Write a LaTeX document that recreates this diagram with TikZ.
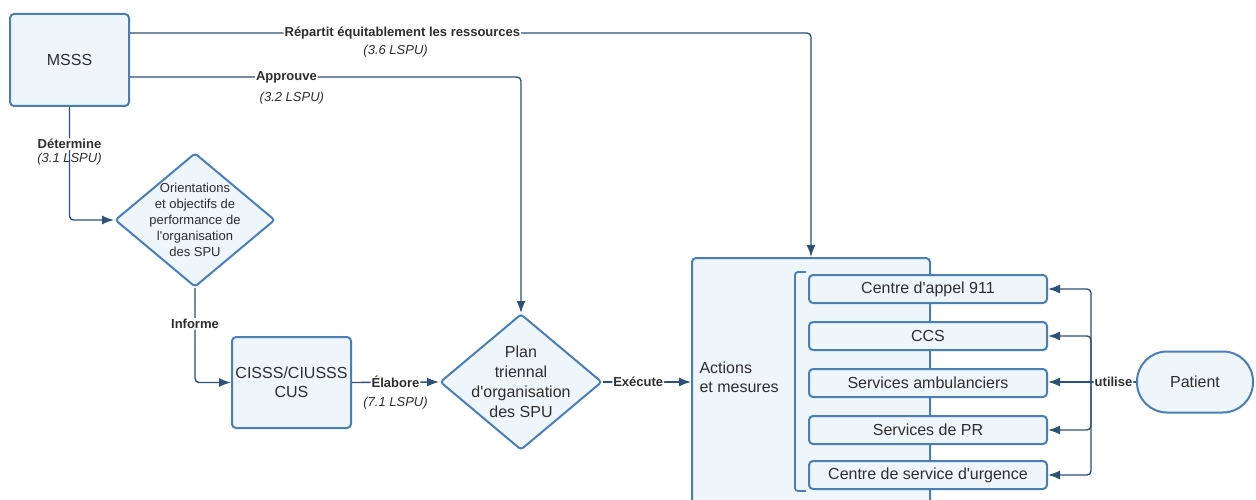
\documentclass[tikz,border=0pt]{standalone}
\usepackage{fontspec}
\setmainfont{Liberation Sans}[Ligatures=TeXOff]
\usetikzlibrary{shapes.geometric,arrows.meta}

\definecolor{boxblue}{HTML}{4A7FB5}
\definecolor{boxfill}{HTML}{EEF5FB}
\definecolor{linkblue}{HTML}{2D5275}
\definecolor{txtgray}{HTML}{2E2E2E}

\tikzset{
  box/.style={draw=boxblue, line width=2pt, fill=boxfill, rounded corners=4pt,
    text=txtgray, align=center, font=\fontsize{16}{19}\selectfont},
  choice/.style={box, diamond, rounded corners=3pt, inner sep=-20pt},
  service/.style={box, minimum width=238pt, minimum height=28pt, inner sep=0pt},
  link/.style={draw=linkblue, line width=1.4pt, rounded corners=4pt},
  arr/.style={link, -{Latex[length=12pt,width=9pt]}},
  verb/.style={font=\bfseries\fontsize{13}{15}\selectfont, text=txtgray, fill=white, inner sep=1pt},
  lspu/.style={font=\itshape\fontsize{13}{15}\selectfont, text=txtgray, inner sep=1pt},
}

\begin{document}
\begin{tikzpicture}[x=1pt,y=-1pt]

% Fix the size of the picture
\useasboundingbox (0,0) rectangle (1256,500);

% Main boxes and decisions
\node[box, minimum width=119pt, minimum height=92pt] (msss) at (69.5,60) {MSSS};
\node[choice, minimum width=160pt, minimum height=134pt,
  font=\fontsize{13}{16}\selectfont] (orient) at (195,220)
  {Orientations\\et objectifs de\\performance de\\l'organisation\\des SPU};
\node[box, minimum width=119pt, minimum height=91pt] (cisss) at (291.5,382.5)
  {CISSS/CIUSSS\\CUS};
\node[choice, minimum width=162pt, minimum height=136pt,
  font=\fontsize{16}{20}\selectfont] (plan) at (521,382)
  {Plan\\triennal\\d'organisation\\des SPU};

% Actions box (runs past the bottom edge)
\node[box, anchor=north west, minimum width=238pt, minimum height=280pt] (actions)
  at (691,257) {};
\node[anchor=west, align=left, text=txtgray, font=\fontsize{16}{19}\selectfont]
  (acttxt) at (696,377) {Actions\\et mesures};

% Services inside the actions box
\foreach \n/\y/\t in {s1/289/Centre d'appel 911, s2/336/CCS,
  s3/383/Services ambulanciers, s4/430/Services de PR,
  s5/475/Centre de service d'urgence}
  \node[service] (\n) at (928,\y) {\t};

% Bracket grouping the services
\draw[draw=boxblue, line width=1.8pt, rounded corners=3pt]
  ([xshift=-2pt,yshift=2pt]s1.north west) -- ++(-11,0)
  |- ([xshift=-2pt,yshift=-1pt]s5.south west);

% Patient
\node[box, rounded corners=30pt, minimum width=116pt, minimum height=61pt]
  (patient) at (1195,382) {Patient};

% Arrows from the MSSS
\draw[arr] ([yshift=27pt]msss.east) -| node[verb, pos=0.2]
  {Répartit équitablement les ressources}
  node[lspu, pos=0.195, yshift=-18pt] {(3.6 LSPU)} (actions.north);
\draw[arr] ([yshift=-17pt]msss.east) -| node[verb, pos=0.2] {Approuve}
  node[lspu, pos=0.207, yshift=-21pt] {(3.2 LSPU)} (plan.north);
\draw[arr] (msss.south) |- node[verb, pos=0.165] {Détermine}
  node[lspu, pos=0.165, yshift=-15pt] {(3.1 LSPU)} (orient.west);

% Arrows down the chain
\draw[arr] (orient.south) |- node[verb, pos=0.19] {Informe} (cisss.west);
\draw[arr] (cisss.east) -- node[verb] {Élabore}
  node[lspu, yshift=-21pt] {(7.1 LSPU)} (plan.west);
\draw[arr] (plan.east) -- node[verb, pos=0.4] {Exécute} (plan.east -| actions.west);

% Patient uses the services
\coordinate (bus) at (1091,382);
\draw[link] (patient.west) -- node[verb] {utilise} (bus);
\draw[arr] (bus) -- (bus -| s3.east);
\foreach \n in {s1,s2,s4,s5}
  \draw[arr] (bus) |- (\n.east);

\end{tikzpicture}
\end{document}
